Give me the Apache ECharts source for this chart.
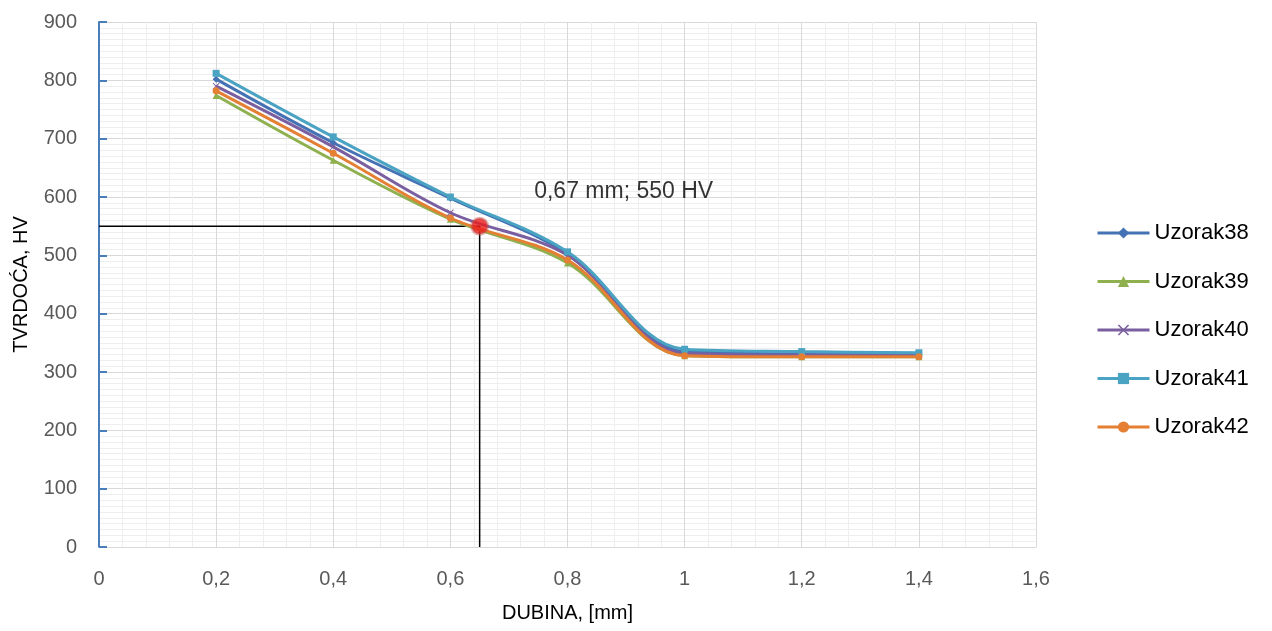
<!DOCTYPE html>
<html>
<head>
<meta charset="utf-8">
<script src="https://cdn.jsdelivr.net/npm/echarts@6/dist/echarts.min.js"></script>
<style>
  html, body { margin: 0; padding: 0; background: #fff; }
  #main { width: 1272px; height: 631px; }
</style>
</head>
<body>
<div id="main"></div>
<script>
// dubina [mm]
var dubina = [0.2, 0.4, 0.6, 0.8, 1, 1.2, 1.4];
// tvrdoca HV po uzorku
var uzorak38 = [802, 693, 598, 502, 335, 331, 330];
var uzorak39 = [774, 663, 562, 487, 328, 326, 326];
var uzorak40 = [790, 686, 573, 500, 332, 329, 329];
var uzorak41 = [812, 703, 600, 506, 339, 335, 333];
var uzorak42 = [782, 675, 564, 492, 328, 326, 326];
// ocitana tocka 550 HV
var tocka = [0.65, 550];
var tockaTekst = '0,67 mm; 550 HV';

var font = 'Liberation Sans';
var zarez = function (v) { return String(v).replace('.', ','); };
var xMark = 'path://M0,1L1,0L5,4L9,0L10,1L6,5L10,9L9,10L5,6L1,10L0,9L4,5Z';

function niz(name, vals, color, symbol) {
    return {
        name: name,
        type: 'line',
        smooth: 0.35,
        data: dubina.map(function (d, i) { return [d, vals[i]]; }),
        symbol: symbol,
        symbolSize: 7,
        lineStyle: { color: color, width: 3 },
        itemStyle: { color: color },
        z: 3
    };
}

var myChart = echarts.init(document.getElementById('main'));
myChart.setOption({
    animation: false,
    textStyle: { fontFamily: font },
    grid: { left: 99, right: 236, top: 22, bottom: 84 },
    legend: {
        orient: 'vertical',
        left: 1091,
        top: 217,
        itemWidth: 52,
        itemHeight: 14,
        itemGap: 26.5,
        lineStyle: { width: 3 },
        textStyle: { fontSize: 22, color: '#000', fontFamily: font },
        data: ['Uzorak38', 'Uzorak39', 'Uzorak40', 'Uzorak41', 'Uzorak42']
    },
    xAxis: {
        type: 'value',
        min: 0, max: 1.6, interval: 0.2,
        name: 'DUBINA, [mm]',
        nameLocation: 'middle',
        nameGap: 56,
        nameTextStyle: { fontSize: 20, color: '#000', fontFamily: font },
        axisLine: { lineStyle: { color: '#d9d9d9', width: 1 } },
        axisTick: { show: false },
        axisLabel: { formatter: zarez, fontSize: 20, color: '#595959', margin: 22 },
        splitLine: { lineStyle: { color: '#d9d9d9', width: 1 } },
        minorTick: { show: false, splitNumber: 5 },
        minorSplitLine: { show: true, lineStyle: { color: '#eeeeee', width: 1 } }
    },
    yAxis: {
        type: 'value',
        min: 0, max: 900, interval: 100,
        name: 'TVRDOĆA, HV',
        nameLocation: 'middle',
        nameGap: 68,
        nameTextStyle: { fontSize: 20, color: '#000', fontFamily: font },
        axisLine: { show: true, lineStyle: { color: '#4a7ebb', width: 2 } },
        axisTick: { show: true, inside: true, length: 8, lineStyle: { color: '#4a7ebb', width: 2 } },
        axisLabel: { fontSize: 20, color: '#595959', margin: 22 },
        splitLine: { lineStyle: { color: '#d9d9d9', width: 1 } },
        minorTick: { show: false, splitNumber: 10 },
        minorSplitLine: { show: true, lineStyle: { color: '#eeeeee', width: 1 } }
    },
    series: [
        niz('Uzorak38', uzorak38, '#4472b4', 'diamond'),
        niz('Uzorak39', uzorak39, '#8fb04e', 'triangle'),
        niz('Uzorak40', uzorak40, '#7a5fa0', xMark),
        niz('Uzorak41', uzorak41, '#4aa3c2', 'rect'),
        niz('Uzorak42', uzorak42, '#e47f33', 'circle'),
        {
            name: 'ocitanje',
            type: 'line',
            data: [[0, tocka[1]], tocka, [tocka[0], 0]],
            symbol: 'none',
            lineStyle: { color: '#000', width: 1.5 },
            z: 2
        },
        {
            name: 'tocka',
            type: 'scatter',
            data: [tocka],
            symbol: 'circle',
            symbolSize: 16,
            itemStyle: { color: '#ee1c1c', borderColor: 'rgba(192,80,77,0.55)', borderWidth: 3 },
            label: {
                show: true,
                formatter: tockaTekst,
                position: 'inside',
                offset: [144, -35],
                fontSize: 23,
                color: '#000',
                fontFamily: font
            },
            z: 5
        }
    ]
});
</script>
</body>
</html>
